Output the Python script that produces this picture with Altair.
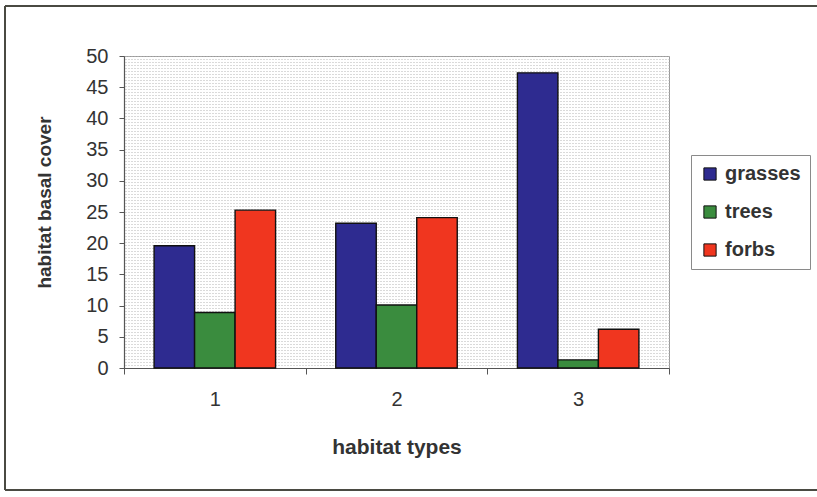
import altair as alt
import pandas as pd

# Habitat basal cover by vegetation class
habitats = ["1", "2", "3"]
cover_types = ["grasses", "trees", "forbs"]
grasses = [19.6, 23.2, 47.3]
trees = [8.9, 10.1, 1.3]
forbs = [25.3, 24.1, 6.2]
colors = ["#2E2B90", "#3A8C3E", "#F0361F"]
y_ticks = list(range(0, 55, 5))

rows = []
for i, h in enumerate(habitats):
    for name, series in zip(cover_types, [grasses, trees, forbs]):
        rows.append({"habitat": h, "cover": name, "value": series[i]})
df = pd.DataFrame(rows)

FONT = "Liberation Sans"
W, H = 545, 312

# fine dotted lattice behind the bars (horizontal dashed grid lines every 3 px)
N_DOT_ROWS = H // 3
dot_rows = [k * 50 / N_DOT_ROWS for k in range(N_DOT_ROWS + 1)]

y_scale = alt.Scale(domain=[0, 50], nice=False)

lattice = alt.Chart(alt.Data(values=[{}])).mark_point(opacity=0).encode(
    y=alt.Y(
        "v:Q",
        scale=y_scale,
        axis=alt.Axis(
            orient="right",
            values=dot_rows,
            grid=True,
            gridColor="#b4b4b4",
            gridDash=[1, 2],
            gridWidth=1,
            gridOpacity=1,
            labels=False,
            ticks=False,
            domain=False,
            title=None,
        ),
    )
)

bars = alt.Chart(df).mark_bar(stroke="#111111", strokeWidth=1.4).encode(
    x=alt.X(
        "habitat:N",
        sort=habitats,
        scale=alt.Scale(paddingInner=0, paddingOuter=0),
        axis=alt.Axis(
            title="habitat types",
            labelAngle=0,
            tickBand="extent",
            tickSize=6,
            labelPadding=15,
            titleY=85,
            titleFontSize=21,
            titleBaseline="alphabetic",
        ),
    ),
    xOffset=alt.XOffset(
        "cover:N",
        sort=cover_types,
        scale=alt.Scale(paddingInner=0, paddingOuter=0.743),
    ),
    y=alt.Y(
        "value:Q",
        scale=y_scale,
        axis=alt.Axis(
            title="habitat basal cover",
            values=y_ticks,
            tickSize=5,
            labelPadding=11,
            grid=False,
            titleX=-80,
            titleY=146,
            titleFontSize=19,
            titleBaseline="middle",
            titleAlign="center",
        ),
    ),
    color=alt.Color(
        "cover:N",
        sort=cover_types,
        scale=alt.Scale(domain=cover_types, range=colors),
        legend=alt.Legend(
            title=None,
            orient="none",
            legendX=567,
            legendY=99,
            symbolType="square",
            symbolSize=150,
            symbolStrokeColor="#111111",
            symbolStrokeWidth=1,
            symbolOpacity=1,
            labelFontSize=20,
            labelFontWeight="bold",
            labelFont=FONT,
            labelColor="#333333",
            labelOffset=5,
            rowPadding=18,
            padding=9,
            strokeColor="#8a8a8a",
            fillColor="white",
        ),
    ),
)

# Outer frame: top, left and bottom edges of the figure border
FRAME_L, FRAME_R, FRAME_T, FRAME_B = -119, W + 320, -50, H + 122
frame_style = dict(color="#4a4a42", strokeWidth=2)
frame_top = alt.Chart(alt.Data(values=[{}])).mark_rule(**frame_style).encode(
    x=alt.value(FRAME_L), x2=alt.value(FRAME_R), y=alt.value(FRAME_T)
)
frame_bottom = alt.Chart(alt.Data(values=[{}])).mark_rule(**frame_style).encode(
    x=alt.value(FRAME_L), x2=alt.value(FRAME_R), y=alt.value(FRAME_B)
)
frame_left = alt.Chart(alt.Data(values=[{}])).mark_rule(**frame_style).encode(
    x=alt.value(FRAME_L), y=alt.value(FRAME_T), y2=alt.value(FRAME_B)
)

chart = alt.layer(lattice, bars, frame_top, frame_bottom, frame_left).resolve_axis(
    y="independent"
).properties(
    width=W,
    height=H,
    autosize=alt.AutoSizeParams(type="none"),
    padding={"left": 124, "top": 56, "right": 148, "bottom": 129},
    background="white",
).configure_view(
    fill="white", stroke="#9a9a9a", strokeWidth=1
).configure_axis(
    labelFont=FONT,
    titleFont=FONT,
    labelFontSize=20,
    titleFontSize=20,
    titleFontWeight="bold",
    labelColor="#333333",
    titleColor="#333333",
    domainColor="#555555",
    tickColor="#555555",
    domainWidth=1.2,
)

chart.save("out.html", embed_options={"renderer": "svg", "actions": False})
